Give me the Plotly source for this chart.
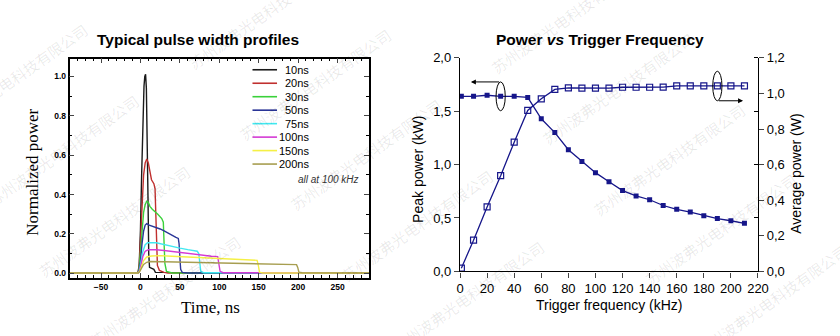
import math
import plotly.graph_objects as go

# ---------------- Left panel: normalized pulse shapes (all at 100 kHz) ----------------
pulse_labels = ["10ns", "20ns", "30ns", "50ns", "75ns", "100ns", "150ns", "200ns"]
pulse_colors = ["#1a1a1a", "#c0302f", "#3ad13a", "#2a3597", "#40e8f0", "#d43ad4", "#f5f045", "#a79e50"]

t_10ns = [-90, -3, -1.5, 0, 1.5, 3, 4.5, 5.5, 6.5, 7.5, 8.5, 9.5, 10.5, 11.5, 17, 19, 290]
p_10ns = [0.002, 0.002, 0.05, 0.22, 0.5, 0.78, 0.95, 1.0, 1.01, 0.94, 0.75, 0.4, 0.1, 0.03, 0.02, 0.005, 0.002]

t_20ns = [-90, -3, -1.5, 0, 2, 4, 6, 8, 10, 12, 14, 17, 18.5, 19.5, 20.5, 21.5, 24, 30, 35, 290]
p_20ns = [0.002, 0.002, 0.04, 0.15, 0.35, 0.5, 0.56, 0.58, 0.56, 0.51, 0.475, 0.455, 0.43, 0.3, 0.12, 0.04, 0.015, 0.005, 0.002, 0.002]

t_30ns = [-90, -3, -1.5, 0, 2, 4, 6, 8, 10, 12, 15, 18, 22, 27, 29, 30, 31, 33, 40, 290]
p_30ns = [0.002, 0.002, 0.03, 0.1, 0.22, 0.31, 0.35, 0.366, 0.36, 0.34, 0.325, 0.315, 0.3, 0.278, 0.26, 0.15, 0.05, 0.01, 0.002, 0.002]

t_50ns = [-90, -3, -1.5, 0, 2, 4, 6, 8, 11, 15, 20, 25, 30, 35, 40, 45, 48, 49, 50, 51, 53, 60, 290]
p_50ns = [0.002, 0.002, 0.02, 0.06, 0.15, 0.215, 0.245, 0.252, 0.245, 0.24, 0.235, 0.225, 0.215, 0.203, 0.192, 0.182, 0.177, 0.15, 0.08, 0.02, 0.005, 0.002, 0.002]

t_75ns = [-90, -3, -1.5, 0, 3, 6, 9, 20, 30, 40, 50, 60, 72, 74, 75, 76.5, 80, 290]
p_75ns = [0.002, 0.002, 0.01, 0.04, 0.11, 0.145, 0.155, 0.155, 0.145, 0.136, 0.128, 0.12, 0.112, 0.1, 0.05, 0.01, 0.003, 0.002]

t_100ns = [-90, -3, -1.5, 0, 3, 6, 10, 20, 30, 45, 60, 75, 90, 98, 99.5, 101, 105, 290]
p_100ns = [0.002, 0.002, 0.01, 0.03, 0.085, 0.112, 0.12, 0.12, 0.116, 0.108, 0.1, 0.093, 0.087, 0.085, 0.05, 0.01, 0.003, 0.002]

t_150ns = [-90, -3, -1.5, 0, 4, 8, 14, 25, 40, 60, 80, 100, 120, 140, 148, 149.5, 151, 155, 290]
p_150ns = [0.002, 0.002, 0.008, 0.02, 0.065, 0.083, 0.088, 0.09, 0.087, 0.083, 0.079, 0.075, 0.071, 0.067, 0.066, 0.04, 0.006, 0.002, 0.002]

t_200ns = [-90, -3, -1.5, 0, 4, 8, 12, 30, 60, 90, 120, 150, 180, 198, 199.5, 201, 205, 290]
p_200ns = [0.002, 0.002, 0.006, 0.015, 0.045, 0.056, 0.06, 0.059, 0.056, 0.053, 0.05, 0.047, 0.045, 0.044, 0.03, 0.006, 0.003, 0.002]

pulse_times = [t_10ns, t_20ns, t_30ns, t_50ns, t_75ns, t_100ns, t_150ns, t_200ns]
pulse_values = [p_10ns, p_20ns, p_30ns, p_50ns, p_75ns, p_100ns, p_150ns, p_200ns]

time_ticks = [-50, 0, 50, 100, 150, 200, 250]
norm_ticks = [0.0, 0.2, 0.4, 0.6, 0.8, 1.0]

# ---------------- Right panel: power vs trigger frequency ----------------
freq_khz = [1, 10, 20, 30, 40, 50, 60, 70, 80, 90, 100, 110, 120, 130, 140, 150, 160, 170, 180, 190, 200, 210]
peak_kw = [1.64, 1.64, 1.65, 1.64, 1.64, 1.63, 1.43, 1.30, 1.14, 1.03, 0.925, 0.84, 0.757, 0.707, 0.671,
           0.617, 0.581, 0.555, 0.522, 0.495, 0.474, 0.45]
avg_w = [0.018, 0.175, 0.362, 0.538, 0.726, 0.905, 0.97, 1.023, 1.032, 1.03, 1.03, 1.03, 1.035, 1.035,
         1.035, 1.036, 1.043, 1.043, 1.043, 1.043, 1.043, 1.043]

freq_ticks = list(range(0, 221, 20))
peak_ticks = [0.0, 0.5, 1.0, 1.5, 2.0]
avg_ticks = [0.0, 0.2, 0.4, 0.6, 0.8, 1.0, 1.2]

W, H = 840, 336
NAVY = "#16168a"
SANS = "Liberation Sans, Arial, sans-serif"
SERIF = "Liberation Serif, Times New Roman, serif"


def px(x):
    return x / W


def py(y):
    return 1 - y / H


def comma(v):
    return f"{v:.1f}".replace(".", ",")


def label(text, x, y, size, family=SANS, angle=0, xanchor="center", color="black"):
    return dict(text=text, x=px(x), y=py(y), xref="paper", yref="paper", textangle=angle,
                xanchor=xanchor, yanchor="middle", showarrow=False,
                font=dict(family=family, size=size, color=color))


fig = go.Figure()

for lab, col, tt, vv in zip(pulse_labels, pulse_colors, pulse_times, pulse_values):
    fig.add_trace(go.Scatter(x=tt, y=vv, mode="lines", name=lab, xaxis="x", yaxis="y",
                             line=dict(color=col, width=1.4), showlegend=False))

fig.add_trace(go.Scatter(x=freq_khz, y=peak_kw, mode="lines+markers", xaxis="x2", yaxis="y2",
                         line=dict(color=NAVY, width=1.3),
                         marker=dict(symbol="square", size=5, color=NAVY), showlegend=False))
fig.add_trace(go.Scatter(x=freq_khz, y=avg_w, mode="lines+markers", xaxis="x2", yaxis="y3",
                         line=dict(color=NAVY, width=1.3),
                         marker=dict(symbol="square-open", size=6, color=NAVY, line=dict(width=1.2)),
                         showlegend=False))

frame = dict(showline=True, linecolor="black", showgrid=False, zeroline=False)

fig.update_layout(
    width=W, height=H,
    margin=dict(l=0, r=0, t=0, b=0),
    paper_bgcolor="white", plot_bgcolor="white",
    showlegend=False,
    xaxis=dict(domain=[px(66.7), px(371.7)], range=[-90, 290], anchor="y",
               tickvals=time_ticks, ticks="inside", ticklen=5, tickwidth=1.2, mirror="ticks",
               linewidth=1.5, tickfont=dict(family=SANS, size=8.5, color="black", weight="bold"),
               minor=dict(dtick=10, tick0=0, ticks="inside", ticklen=3, tickwidth=1, tickcolor="black"),
               **frame),
    yaxis=dict(domain=[py(283.3), py(54)], range=[-0.022, 1.09], anchor="x",
               tickvals=norm_ticks, ticktext=[f"{v:.1f}" for v in norm_ticks],
               ticks="inside", ticklen=5, tickwidth=1.2, mirror="ticks", linewidth=1.5,
               tickfont=dict(family=SANS, size=8.5, color="black", weight="bold"),
               minor=dict(dtick=0.1, tick0=0, ticks="inside", ticklen=3, tickwidth=1, tickcolor="black"),
               **frame),
    xaxis2=dict(domain=[px(464.3), px(767.7)], range=[0, 220], anchor="y2",
                tickvals=freq_ticks, ticks="outside", ticklen=5, tickwidth=1.2, linewidth=1.4,
                tickfont=dict(family=SANS, size=13, color="black"), **frame),
    xaxis3=dict(domain=[px(464.3), px(767.7)], range=[0, 220], anchor="y2", overlaying="x2", side="top",
                tickvals=freq_ticks, ticks="inside", ticklen=4, tickwidth=1.2, linewidth=1.4,
                showticklabels=False, **frame),
    yaxis2=dict(domain=[py(276.7), py(53.3)], range=[0, 2.0], anchor="x2",
                tickvals=peak_ticks, ticktext=[comma(v) for v in peak_ticks],
                ticks="outside", ticklen=5, tickwidth=1.2, linewidth=1.4,
                tickfont=dict(family=SANS, size=13, color="black"), **frame),
    yaxis3=dict(domain=[py(276.7), py(53.3)], range=[0, 1.2], anchor="x2", overlaying="y2", side="right",
                tickvals=avg_ticks, ticktext=[comma(v) for v in avg_ticks],
                ticks="outside", ticklen=5, tickwidth=1.2, linewidth=1.4,
                tickfont=dict(family=SANS, size=13, color="black"),
                minor=dict(tickvals=[v * 1.2 / 2.0 for v in peak_ticks], ticks="inside", ticklen=4,
                           tickwidth=1.2, tickcolor="black"),
                **frame),
)

ann = []
# panel titles
ann.append(label("<b>Typical pulse width profiles</b>", 198, 34, 15.5))
ann.append(label("<b>Power <i>vs</i> Trigger Frequency</b>", 607, 34, 15.5))
# axis titles
ann.append(label("Normalized power", 29, 173, 17, family=SERIF, angle=-90))
ann.append(label("Time, ns", 210, 315, 17, family=SERIF))
ann.append(label("Peak power (kW)", 422, 170, 14, angle=-90))
ann.append(label("Average power (W)", 807, 175, 14, angle=-90))
ann.append(label("Trigger frequency (kHz)", 616, 312, 14))

# hand-drawn legend of the pulse panel
shapes = []
for i, (lab, col) in enumerate(zip(pulse_labels, pulse_colors)):
    yrow = 65.7 + i * 14.1
    shapes.append(dict(type="line", xref="paper", yref="paper", x0=px(253), x1=px(278), y0=py(yrow), y1=py(yrow),
                       line=dict(color=col, width=1.6)))
    ann.append(label(lab, 312.5, yrow, 11, xanchor="right"))
ann.append(label("<i>all at 100 kHz</i>", 363, 180.5, 10, xanchor="right", color="#333333"))

# ellipses with arrows pointing to each curve's axis
shapes.append(dict(type="circle", xref="x2", yref="y2", x0=26.6, x1=33.4, y0=1.64 - 0.135, y1=1.64 + 0.135,
                   line=dict(color="black", width=1)))
shapes.append(dict(type="circle", xref="x2", yref="y3", x0=186.6, x1=193.4, y0=1.042 - 0.083, y1=1.042 + 0.083,
                   line=dict(color="black", width=1)))
ann.append(dict(x=8, y=1.775, ax=30, ay=1.775, xref="x2", yref="y2", axref="x2", ayref="y2", text="",
                showarrow=True, arrowhead=2, arrowsize=1, arrowwidth=1, arrowcolor="black"))
ann.append(dict(x=209, y=0.959, ax=190, ay=0.959, xref="x2", yref="y3", axref="x2", ayref="y3", text="",
                showarrow=True, arrowhead=2, arrowsize=1, arrowwidth=1, arrowcolor="black"))

# faint diagonal company watermark tiled over the page
mark = "苏州波弗光电科技有限公司"
ang = math.radians(35)
ux, uy = math.cos(ang), -math.sin(ang)
for j in range(-6, 8):
    for i in range(-3, 6):
        cx = 60 + i * 250 * ux + j * 52
        cy = 150 + i * 250 * uy + j * 74
        if -30 < cx < W + 30 and -25 < cy < H + 25:
            ann.append(label(mark, cx, cy, 15, family="Noto Sans CJK SC", angle=-35,
                             color="rgba(0,0,0,0.09)"))

fig.update_layout(annotations=ann, shapes=shapes)
fig.write_html("out.html")
